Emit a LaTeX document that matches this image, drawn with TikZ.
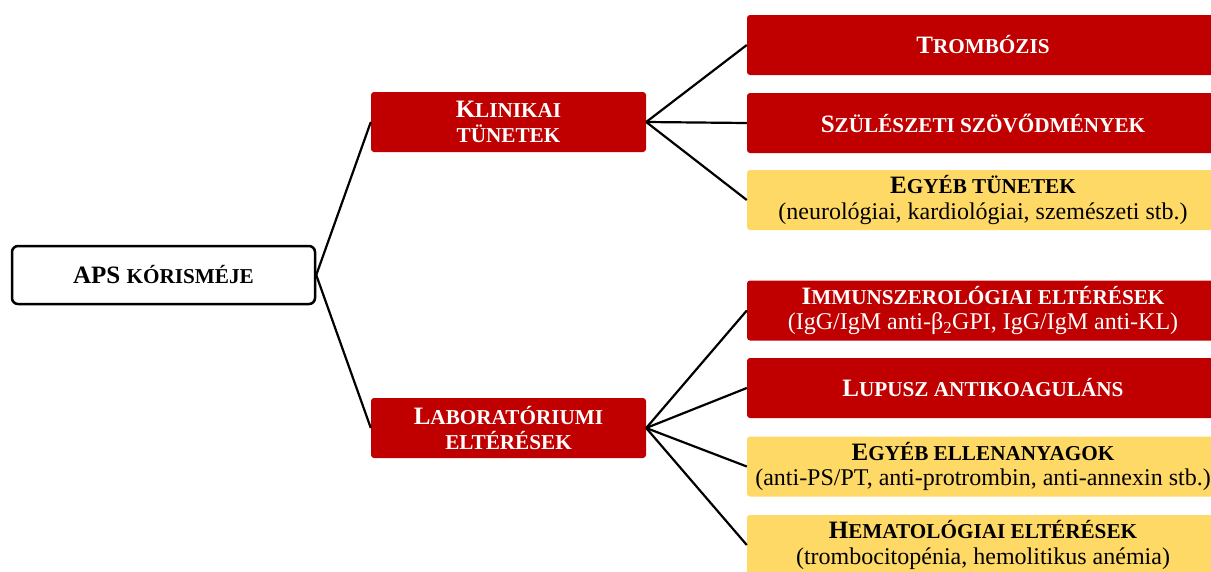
\documentclass[tikz,border=0pt]{standalone}
\usepackage{fontspec}
\setmainfont{Liberation Serif}
\definecolor{apsred}{HTML}{C00000}
\definecolor{apsyel}{HTML}{FFD966}
\newcommand\smc[1]{{\fontsize{21.2}{25}\selectfont #1}}
\newcommand\regl[1]{{\fontsize{24}{25}\selectfont\mdseries #1}}
\begin{document}
\begin{tikzpicture}[x=1pt,y=-1pt,
  basebox/.style={rounded corners=3pt, minimum height=60pt, inner sep=0pt, align=center,
    font=\fontsize{25}{25.5}\selectfont\bfseries},
  redbox/.style={basebox, fill=apsred, text=white},
  yelbox/.style={basebox, fill=apsyel, text=black},
  rootbox/.style={basebox, draw=black, line width=2.5pt, rounded corners=6pt, fill=white,
    minimum width=303pt, minimum height=58pt},
  midw/.style={minimum width=275pt},
  rightw/.style={minimum width=472pt},
  conn/.style={line width=2.2pt, black}
]
\useasboundingbox (0,0) rectangle (1211,571);
\node[rootbox] (aps) at (163.5,275) {APS \smc{KÓRISMÉJE}};
\node[redbox, midw] (klin) at (508.5,122) {K\smc{LINIKAI}\\\smc{TÜNETEK}};
\node[redbox, midw] (lab) at (508.5,428) {L\smc{ABORATÓRIUMI}\\\smc{ELTÉRÉSEK}};
\node[redbox, rightw] (trom) at (983,45) {T\smc{ROMBÓZIS}};
\node[redbox, rightw] (szul) at (983,123) {S\smc{ZÜLÉSZETI SZÖVŐDMÉNYEK}};
\node[yelbox, rightw] (egyt) at (983,200) {E\smc{GYÉB TÜNETEK}\\\regl{(neurológiai, kardiológiai, szemészeti stb.)}};
\node[redbox, rightw] (imm) at (983,310.5) {I\smc{MMUNSZEROLÓGIAI ELTÉRÉSEK}\\\regl{(IgG/IgM anti-β\textsubscript{2}GPI, IgG/IgM anti-KL)}};
\node[redbox, rightw] (lup) at (983,388) {L\smc{UPUSZ ANTIKOAGULÁNS}};
\node[yelbox, rightw] (egye) at (983,466.5) {E\smc{GYÉB ELLENANYAGOK}\\\regl{(anti-PS/PT, anti-protrombin, anti-annexin stb.)}};
\node[yelbox, rightw] (hem) at (983,545) {H\smc{EMATOLÓGIAI ELTÉRÉSEK}\\\regl{(trombocitopénia, hemolitikus anémia)}};
\draw[conn] (aps.east) -- (klin.west);
\draw[conn] (aps.east) -- (lab.west);
\foreach \t in {trom,szul,egyt} \draw[conn] (klin.east) -- (\t.west);
\foreach \t in {imm,lup,egye,hem} \draw[conn] (lab.east) -- (\t.west);
\end{tikzpicture}
\end{document}
